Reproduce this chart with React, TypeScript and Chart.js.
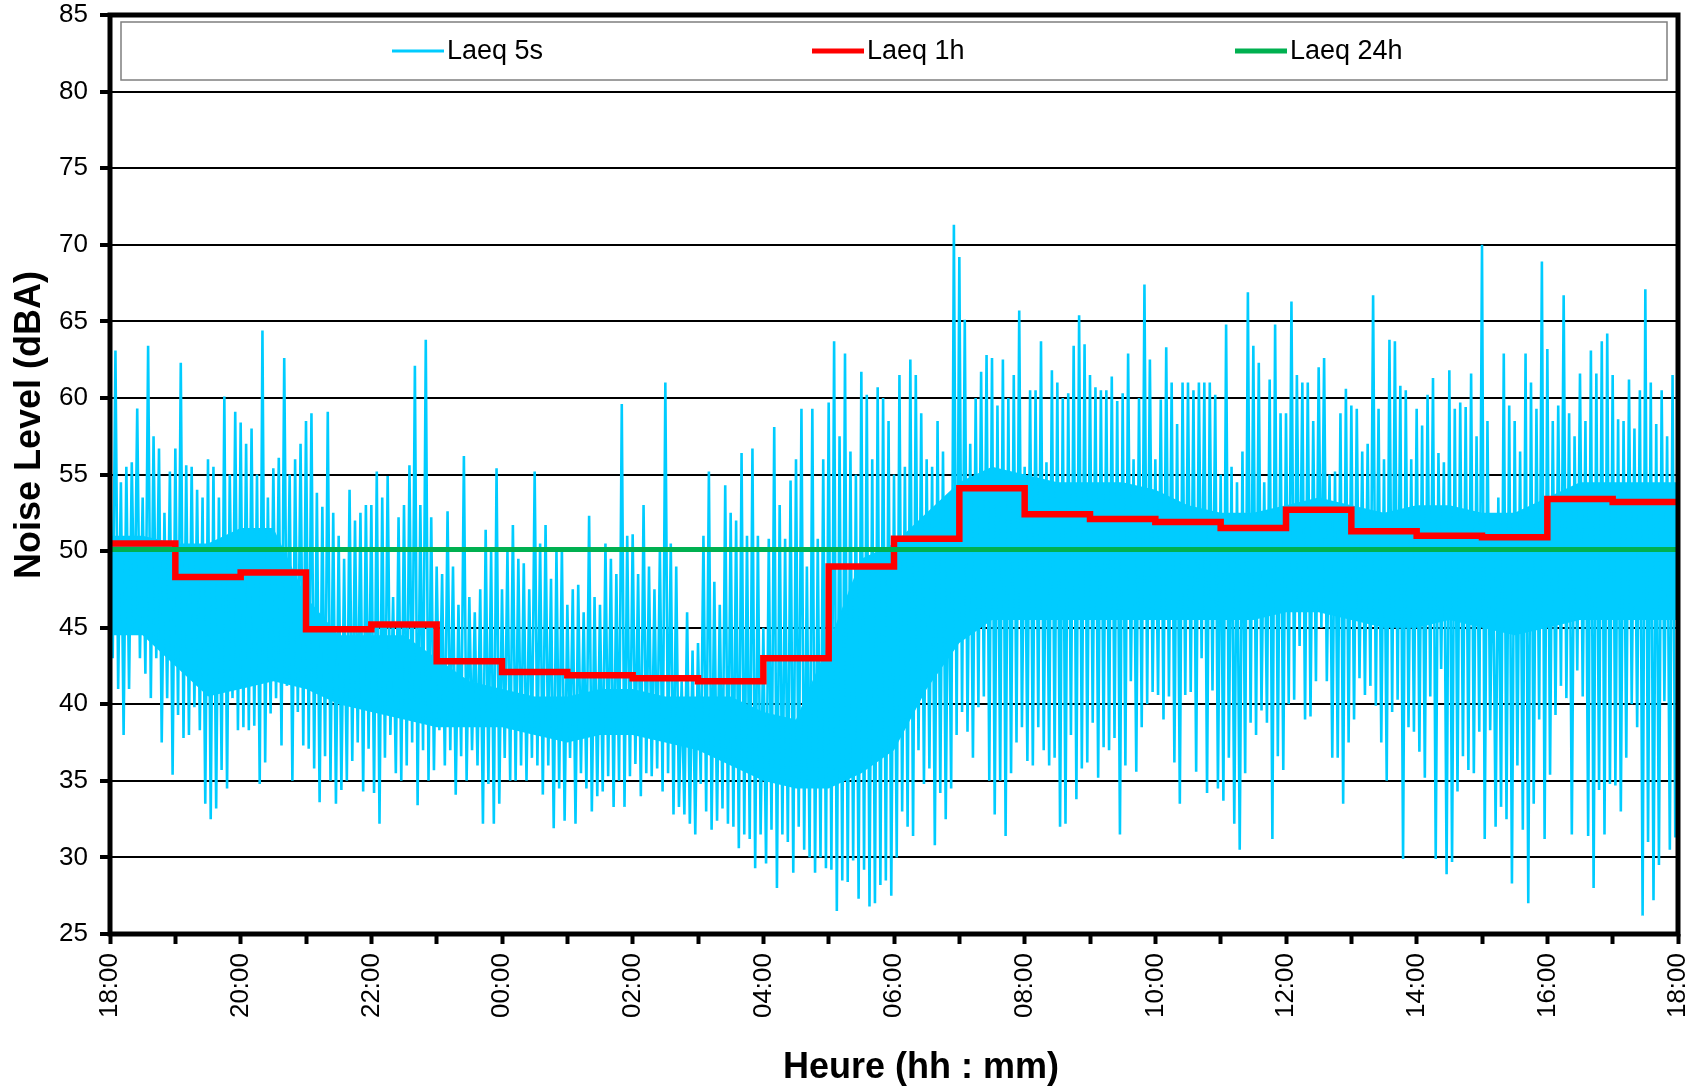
import React, { useEffect, useRef } from 'react';
import { Chart, registerables } from 'chart.js';

Chart.register(...registerables);

// ---- DATA ----
const hourLabels = [
  '18:00', '', '20:00', '', '22:00', '', '00:00', '', '02:00', '', '04:00', '', '06:00',
  '', '08:00', '', '10:00', '', '12:00', '', '14:00', '', '16:00', '', '18:00',
];

const seriesNames = ['Laeq 5s', 'Laeq 1h', 'Laeq 24h'];
const xTitle = 'Heure (hh : mm)';
const yTitle = 'Noise Level (dBA)';

// Hourly Laeq (18:00 .. 17:00 start of each hour)
const laeq1h = [
  50.5, 48.3, 48.6, 44.9, 45.2, 42.8, 42.1, 41.9, 41.7, 41.5, 43.0, 49.0,
  50.8, 54.1, 52.4, 52.1, 51.9, 51.5, 52.7, 51.3, 51.0, 50.9, 53.4, 53.2,
];

const laeq24h = 50.1;

// Laeq 5s read as 5-minute envelope: peaks and dips (12 per hour, from 18:00)
const laeq5sPeak = [
  56.7, 63.1, 54.5, 55.5, 55.8, 59.3, 53.5, 63.4, 57.5, 56.7, 52.5, 55.2, // 18h
  56.7, 62.3, 55.6, 55.5, 54.0, 53.5, 56.0, 55.5, 53.5, 60.1, 55.0, 59.1, // 19h
  58.4, 57.0, 58.0, 55.0, 64.4, 53.5, 55.4, 56.1, 62.6, 55.0, 56.0, 57.0, // 20h
  58.5, 59.0, 53.8, 52.9, 59.1, 52.5, 51.0, 49.5, 54.0, 52.0, 52.5, 53.0, // 21h
  53.0, 55.2, 53.5, 54.9, 47.0, 52.2, 53.0, 55.6, 62.1, 53.0, 63.8, 52.2, // 22h
  49.0, 48.5, 52.6, 49.0, 46.5, 56.2, 47.0, 46.0, 47.5, 51.4, 50.0, 55.4, // 23h
  47.5, 50.0, 51.7, 49.5, 49.2, 47.5, 55.2, 50.5, 51.7, 48.2, 50.0, 50.2, // 00h
  46.5, 47.5, 47.8, 46.0, 52.3, 47.0, 46.5, 50.5, 49.5, 48.5, 59.6, 51.0, // 01h
  51.1, 48.5, 53.0, 49.0, 47.5, 50.0, 61.0, 50.5, 49.0, 41.5, 46.0, 43.5, // 02h
  44.0, 51.0, 55.2, 48.0, 46.5, 54.3, 52.5, 52.0, 56.4, 51.0, 56.7, 51.0, // 03h
  45.0, 50.8, 58.1, 53.0, 50.8, 54.6, 56.0, 59.3, 49.0, 59.3, 50.8, 56.0, // 04h
  59.7, 63.7, 57.5, 62.9, 56.5, 55.0, 61.7, 60.2, 56.0, 60.7, 60.0, 58.5, // 05h
  55.0, 61.5, 55.5, 62.5, 61.5, 59.0, 56.0, 55.5, 58.5, 56.5, 52.0, 71.3, // 06h
  69.2, 65.1, 57.0, 60.0, 61.7, 62.8, 62.6, 59.5, 62.5, 60.0, 61.5, 65.7, // 07h
  55.5, 60.5, 60.5, 63.7, 55.8, 61.8, 61.0, 60.0, 60.3, 63.4, 65.4, 63.5, // 08h
  61.5, 60.7, 60.5, 60.5, 61.4, 59.8, 60.3, 62.9, 56.0, 60.0, 67.4, 62.5, // 09h
  56.0, 59.9, 63.3, 61.0, 58.3, 61.0, 61.0, 60.5, 61.0, 61.0, 61.0, 60.2, // 10h
  55.0, 64.8, 55.5, 54.5, 56.5, 66.9, 63.4, 62.3, 54.5, 61.2, 64.8, 59.0, // 11h
  59.0, 66.3, 61.5, 61.0, 61.0, 58.5, 62.0, 62.6, 55.0, 55.2, 59.0, 60.6, // 12h
  59.5, 59.3, 56.5, 57.0, 66.7, 59.3, 56.0, 63.8, 63.7, 60.8, 60.5, 56.0, // 13h
  59.3, 58.2, 60.2, 61.3, 56.4, 55.8, 61.8, 59.3, 59.7, 59.4, 61.6, 57.5, // 14h
  70.0, 58.5, 51.7, 53.5, 62.9, 59.5, 58.5, 56.5, 62.9, 61.0, 59.3, 68.9, // 15h
  63.2, 58.5, 59.5, 66.7, 59.0, 57.5, 61.6, 58.5, 63.1, 61.6, 63.7, 64.2, // 16h
  61.5, 58.6, 58.5, 61.2, 58.0, 60.5, 67.1, 61.0, 58.3, 60.5, 57.5, 61.5, // 17h
];

const laeq5sDip = [
  43.0, 41.0, 38.0, 41.0, 44.7, 43.0, 42.0, 40.4, 43.0, 37.5, 40.4, 35.4, // 18h
  39.3, 37.8, 38.0, 39.8, 38.3, 33.5, 32.5, 33.2, 35.7, 34.5, 40.4, 38.3, // 19h
  38.5, 38.3, 38.6, 34.8, 36.2, 39.4, 40.4, 37.3, 41.2, 35.0, 39.5, 37.3, // 20h
  37.1, 35.8, 33.6, 36.6, 35.0, 33.5, 34.4, 35.0, 36.3, 37.5, 34.3, 37.1, // 21h
  34.2, 32.2, 36.5, 38.0, 35.5, 35.0, 36.0, 37.5, 33.4, 37.0, 35.0, 35.7, // 22h
  38.3, 36.0, 37.0, 34.1, 36.6, 35.0, 37.0, 36.0, 32.2, 34.8, 32.2, 33.5, // 23h
  36.5, 35.0, 35.0, 36.0, 35.0, 36.5, 36.0, 34.1, 36.0, 31.9, 34.5, 32.4, // 00h
  36.5, 32.2, 35.5, 34.5, 33.0, 34.0, 34.3, 35.3, 33.3, 35.0, 33.3, 35.3, // 01h
  36.1, 34.0, 35.5, 35.3, 35.8, 34.3, 35.5, 32.8, 33.3, 32.8, 32.2, 31.5, // 02h
  34.8, 33.0, 31.8, 32.4, 33.2, 32.2, 32.0, 30.6, 31.5, 31.2, 29.3, 31.5, // 03h
  29.6, 31.8, 28.0, 31.5, 31.0, 29.0, 32.0, 30.5, 30.0, 29.0, 30.0, 29.3, // 04h
  29.2, 26.5, 28.5, 28.4, 29.8, 27.3, 29.2, 26.8, 27.0, 28.2, 28.5, 27.5, // 05h
  30.0, 33.0, 32.0, 31.4, 37.0, 34.8, 35.8, 30.8, 34.2, 32.5, 34.5, 38.0, // 06h
  39.5, 38.2, 36.5, 39.8, 40.5, 35.0, 32.8, 35.0, 31.4, 35.5, 37.5, 38.5, // 07h
  36.3, 36.0, 38.5, 37.0, 36.0, 36.5, 32.0, 32.2, 38.0, 33.8, 35.8, 36.2, // 08h
  38.8, 35.2, 37.2, 37.0, 37.8, 31.5, 36.0, 41.5, 35.6, 38.5, 40.0, 40.8, // 09h
  40.6, 39.0, 40.5, 36.2, 33.5, 40.6, 40.8, 35.6, 43.0, 34.2, 40.9, 34.5, // 10h
  33.7, 36.5, 32.2, 30.5, 35.5, 38.8, 38.0, 39.6, 38.8, 31.2, 36.6, 35.7, // 11h
  40.0, 40.3, 43.8, 39.0, 39.2, 41.5, 45.0, 41.5, 36.5, 36.5, 33.5, 37.5, // 12h
  39.0, 41.7, 40.6, 41.2, 39.9, 37.5, 35.0, 39.5, 40.3, 29.9, 38.5, 38.2, // 13h
  36.9, 35.2, 40.5, 29.9, 42.3, 28.9, 29.7, 34.3, 36.6, 35.7, 35.5, 38.2, // 14h
  31.2, 38.3, 32.0, 33.3, 32.5, 28.3, 36.0, 31.8, 27.0, 33.5, 39.0, 31.2, // 15h
  35.4, 39.3, 41.2, 40.4, 31.5, 42.2, 40.5, 31.4, 28.0, 34.4, 31.5, 34.8, // 16h
  34.7, 33.0, 36.5, 40.0, 38.5, 26.2, 31.0, 27.2, 29.5, 40.2, 30.5, 31.3, // 17h
];

// Laeq 5s dense (solid) core of the trace, read at every half hour 18:00 .. 18:00
const laeq5sCoreTop = [
  51, 51, 50.5, 50.5, 51.5, 51.5, 47, 44.5, 44.5, 44.5, 43, 41.5,
  41, 40.5, 40.5, 41, 41, 40.5, 40.5, 40.5, 39.5, 39, 44, 49.5,
  50.5, 52.5, 54.5, 55.5, 55, 54.5, 54.5, 54.5, 54, 53, 52.5, 52.5,
  53, 53.5, 53, 52.5, 53, 53, 52.5, 52.5, 53.5, 54.5, 54.5, 54.5, 54.5,
];
const laeq5sCoreBottom = [
  44.5, 44.5, 42.5, 40.5, 41, 41.5, 41, 40, 39.5, 39, 38.5, 38.5,
  38.5, 38, 37.5, 38, 38, 37.5, 37, 36, 35, 34.5, 34.5, 35.5,
  37, 41, 44, 45.5, 45.5, 45.5, 45.5, 45.5, 45.5, 45.5, 45.5, 45.5,
  46, 46, 45.5, 45, 45, 45.5, 45, 44.5, 45, 45.5, 45.5, 45.5, 45.5,
];

// ---- STYLE ----
const FONT = '"Liberation Sans", Arial, Helvetica, sans-serif';
const CYAN = '#00CCFF';
const RED = '#FF0000';
const GREEN = '#00B050';

const framePlugin = {
  id: 'frame',
  afterDatasetsDraw(chart: any) {
    const { ctx, chartArea } = chart;
    const { left, top, right, bottom } = chartArea;
    ctx.save();
    ctx.strokeStyle = '#000';
    ctx.lineWidth = 5;
    ctx.lineJoin = 'miter';
    ctx.strokeRect(left, top, right - left, bottom - top);
    ctx.restore();
  },
};

const titlePlugin = {
  id: 'axisTitles',
  afterDraw(chart: any) {
    const { ctx, chartArea } = chart;
    ctx.save();
    ctx.fillStyle = '#000';
    ctx.font = `bold 36px ${FONT}`;
    ctx.textAlign = 'center';
    ctx.textBaseline = 'middle';
    ctx.fillText(xTitle, chartArea.left + 811, 1068);
    ctx.translate(30, chartArea.top + 410);
    ctx.rotate(-Math.PI / 2);
    ctx.fillText(yTitle, 0, 0);
    ctx.restore();
  },
};

const legendPlugin = {
  id: 'boxLegend',
  afterDraw(chart: any) {
    const { ctx, chartArea } = chart;
    const { left, top, right } = chartArea;
    const bx = left + 11;
    const by = top + 7;
    const bw = right - left - 22;
    const bh = 58;
    ctx.save();
    ctx.fillStyle = '#fff';
    ctx.fillRect(bx, by, bw, bh);
    ctx.strokeStyle = '#7f7f7f';
    ctx.lineWidth = 1.5;
    ctx.strokeRect(bx, by, bw, bh);
    const starts = [392, 812, 1235];
    const widths = [3, 5, 5];
    const cy = by + bh / 2;
    chart.data.datasets.slice(0, 3).forEach((ds: any, i: number) => {
      const x0 = starts[i];
      ctx.strokeStyle = ds.borderColor;
      ctx.lineWidth = widths[i];
      ctx.beginPath();
      ctx.moveTo(x0, cy);
      ctx.lineTo(x0 + 52, cy);
      ctx.stroke();
      ctx.fillStyle = '#000';
      ctx.font = `27px ${FONT}`;
      ctx.textBaseline = 'middle';
      ctx.textAlign = 'left';
      ctx.fillText(ds.label, x0 + 55, cy + 1);
    });
    ctx.restore();
  },
};

export default function App() {
  const canvasRef = useRef<HTMLCanvasElement | null>(null);

  useEffect(() => {
    if (!canvasRef.current) return;

    const pts5s: { x: number; y: number }[] = [];
    laeq5sPeak.forEach((p, i) => {
      pts5s.push({ x: i / 12, y: p });
      pts5s.push({ x: i / 12 + 1 / 24, y: laeq5sDip[i] });
    });
    const coreTop = laeq5sCoreTop.map((v, k) => ({ x: k / 2, y: v }));
    const coreBottom = laeq5sCoreBottom.map((v, k) => ({ x: k / 2, y: v }));
    const pts1h = laeq1h.map((v, h) => ({ x: h, y: v }));
    pts1h.push({ x: 24, y: laeq1h[laeq1h.length - 1] });
    const pts24h = [
      { x: 0, y: laeq24h },
      { x: 24, y: laeq24h },
    ];

    const chart = new Chart(canvasRef.current, {
      type: 'line',
      data: {
        datasets: [
          {
            label: seriesNames[0],
            data: pts5s,
            borderColor: CYAN,
            borderWidth: 2.6,
            pointRadius: 0,
            tension: 0,
            fill: false,
            order: 3,
          },
          {
            label: seriesNames[1],
            data: pts1h,
            borderColor: RED,
            borderWidth: 6.5,
            pointRadius: 0,
            stepped: 'before',
            borderJoinStyle: 'miter',
            fill: false,
            order: 2,
          },
          {
            label: seriesNames[2],
            data: pts24h,
            borderColor: GREEN,
            borderWidth: 5,
            pointRadius: 0,
            fill: false,
            order: 1,
          },
          {
            label: 'core-top',
            data: coreTop,
            borderColor: CYAN,
            borderWidth: 0,
            backgroundColor: CYAN,
            pointRadius: 0,
            fill: '+1',
            order: 4,
          },
          {
            label: 'core-bottom',
            data: coreBottom,
            borderColor: CYAN,
            borderWidth: 0,
            pointRadius: 0,
            fill: false,
            order: 5,
          },
        ],
      },
      options: {
        responsive: false,
        animation: false,
        events: [],
        layout: { padding: { left: 0, top: 15, right: 19, bottom: 0 } },
        plugins: {
          legend: { display: false },
          tooltip: { enabled: false },
        },
        scales: {
          x: {
            type: 'linear',
            min: 0,
            max: 24,
            afterFit: (s: any) => {
              s.height = 156;
              s.paddingLeft = 0;
              s.paddingRight = 0;
            },
            border: { display: false },
            grid: {
              drawOnChartArea: false,
              drawTicks: true,
              tickLength: 10,
              tickWidth: 4,
              tickColor: '#000',
            },
            ticks: {
              stepSize: 1,
              autoSkip: false,
              maxRotation: 90,
              minRotation: 90,
              padding: 9,
              color: '#000',
              font: { family: FONT, size: 26 },
              callback: (_v: any, idx: number) => hourLabels[idx] ?? '',
            },
            title: { display: false },
          },
          y: {
            min: 25,
            max: 85,
            afterFit: (s: any) => {
              s.width = 110;
              s.paddingTop = 0;
              s.paddingBottom = 0;
            },
            border: { display: false },
            grid: {
              color: '#000',
              lineWidth: 2,
              drawTicks: true,
              tickLength: 10,
              tickWidth: 4,
              tickColor: '#000',
            },
            ticks: {
              stepSize: 5,
              padding: 12,
              color: '#000',
              font: { family: FONT, size: 26 },
            },
            title: { display: false },
          },
        },
      },
      plugins: [framePlugin, titlePlugin, legendPlugin],
    });

    return () => chart.destroy();
  }, []);

  return (
    <div
      style={{
        position: 'fixed',
        left: 0,
        top: 0,
        width: 1697,
        height: 1090,
        background: '#fff',
      }}
    >
      <canvas ref={canvasRef} width={1697} height={1090} style={{ display: 'block' }} />
    </div>
  );
}
